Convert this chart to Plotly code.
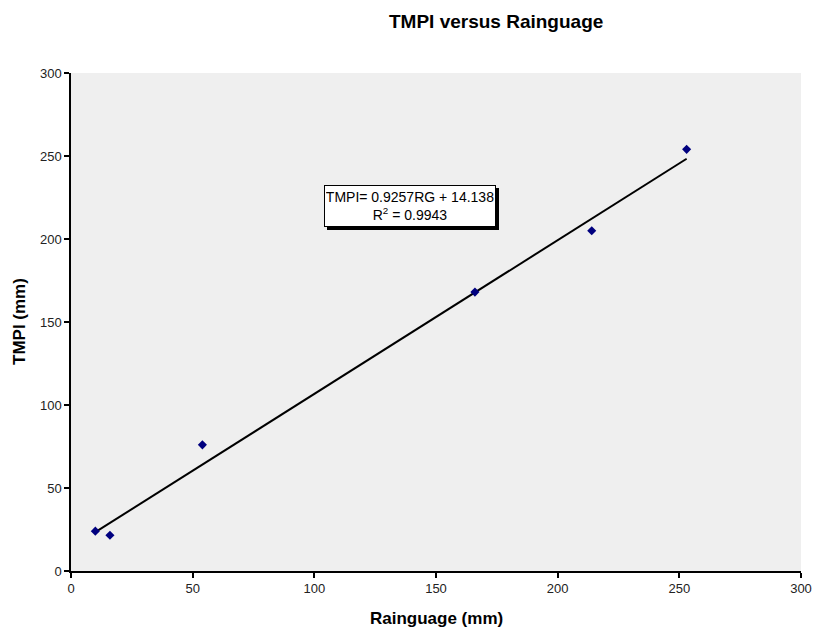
import plotly.graph_objects as go

rainguage = [10, 16, 54, 166, 214, 253]
tmpi = [24, 21.5, 76, 168, 205, 254]
slope = 0.9257
intercept = 14.138
r2 = 0.9943
x_ticks = [0, 50, 100, 150, 200, 250, 300]
y_ticks = [0, 50, 100, 150, 200, 250, 300]

FONT = "Liberation Sans, Arial"

fit_x = [min(rainguage), max(rainguage)]
fit_y = [slope * v + intercept for v in fit_x]

fig = go.Figure()
fig.add_trace(go.Scatter(x=fit_x, y=fit_y, mode="lines",
                         line=dict(color="black", width=2), showlegend=False))
fig.add_trace(go.Scatter(x=rainguage, y=tmpi, mode="markers",
                         marker=dict(symbol="diamond", color="#00007f", size=7),
                         showlegend=False))

eq_text = f"TMPI= {slope}RG + {intercept}<br>R<sup>2</sup> = {r2}"
box = dict(x=139.5, y=220, xref="x", yref="y", showarrow=False,
           width=168, height=38, borderwidth=1, borderpad=1, bordercolor="black")
# drop shadow box (no text)
fig.add_annotation(text=" ", bgcolor="black", xshift=3, yshift=-3,
                   font=dict(family=FONT, size=14, color="black"), **box)
# equation box
fig.add_annotation(text=eq_text, bgcolor="white", align="center",
                   font=dict(family=FONT, size=14, color="black"), **box)

# axis titles
fig.add_annotation(text="<b>Rainguage (mm)</b>", xref="paper", yref="paper",
                   x=(436 - 71) / 730, y=(571 - 618) / 498, showarrow=False,
                   xanchor="center", yanchor="middle",
                   font=dict(family=FONT, size=17, color="black"))
fig.add_annotation(text="<b>TMPI (mm)</b>", xref="paper", yref="paper",
                   x=(19 - 71) / 730, y=(571 - 322) / 498, showarrow=False,
                   xanchor="center", yanchor="middle", textangle=-90,
                   font=dict(family=FONT, size=17, color="black"))

axis_common = dict(
    showgrid=False, zeroline=False, showline=True, linecolor="black", linewidth=1.5,
    ticks="outside", ticklen=5, tickcolor="black", tickwidth=1.5, automargin=False,
    tickfont=dict(family=FONT, size=13, color="#222"),
)
fig.update_layout(
    width=813, height=630, autosize=False,
    margin=dict(l=71, r=12, t=73, b=59),
    paper_bgcolor="white", plot_bgcolor="#efefef",
    title=dict(text="<b>TMPI versus Rainguage</b>", x=473.5 / 813, xanchor="center",
               xref="paper", y=1 - 21 / 630, yanchor="middle",
               font=dict(family=FONT, size=19, color="black")),
    xaxis=dict(range=[0, 300], tickvals=x_ticks, **axis_common),
    yaxis=dict(range=[0, 300], tickvals=y_ticks, **axis_common),
)
fig.write_html("out.html")
